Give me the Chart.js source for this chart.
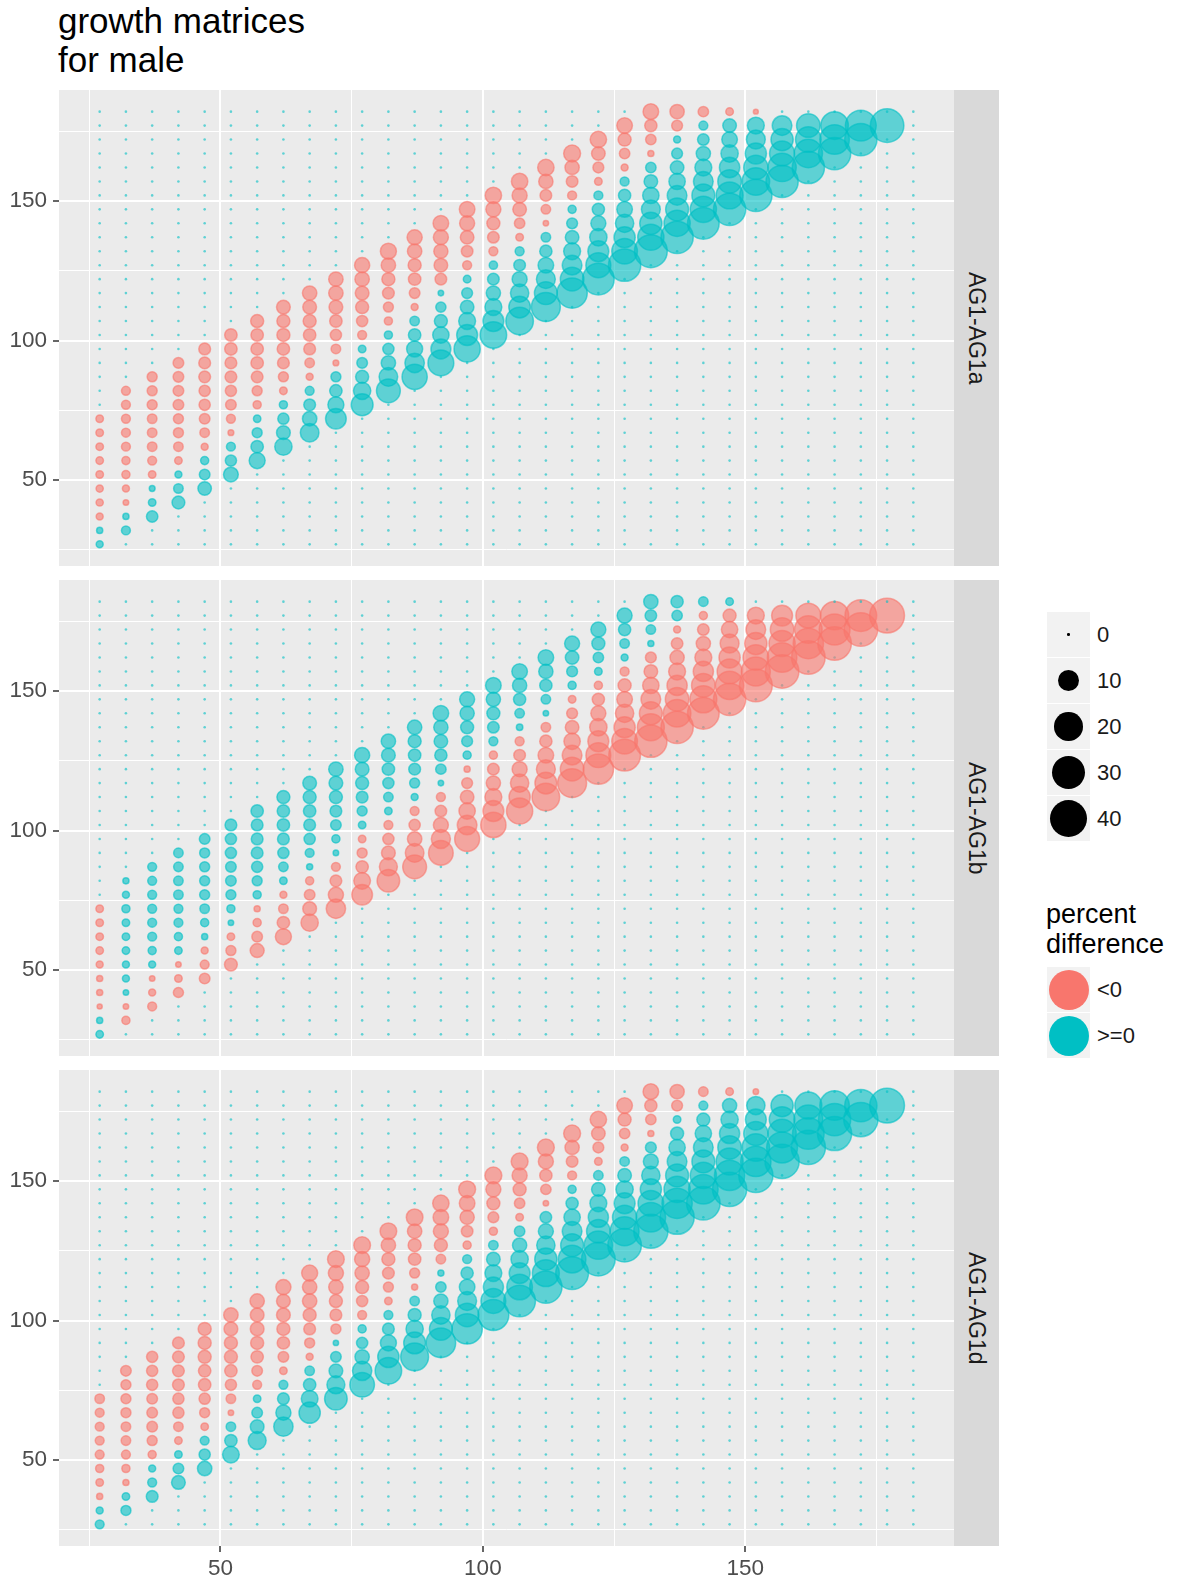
<!DOCTYPE html>
<html>
<head>
<meta charset="utf-8">
<title>growth matrices for male</title>
<script src="https://cdn.jsdelivr.net/npm/chart.js@4.4.1/dist/chart.umd.min.js"></script>
<style>
  html, body { margin:0; padding:0; background:#ffffff; }
  body { position:relative; width:1185px; height:1585px; overflow:hidden; font-family:"Liberation Sans", Arial, Helvetica, sans-serif; }
  #title { position:absolute; left:58px; top:1px; font-size:35px; line-height:39px; color:#000; white-space:nowrap; }
  canvas { position:absolute; left:0; }
  .strip { position:absolute; left:954px; width:45px; height:476px; background:#D9D9D9; display:flex; align-items:center; justify-content:center; }
  .strip span { writing-mode:vertical-rl; font-size:23px; color:#1A1A1A; white-space:nowrap; }
  .key { position:absolute; left:1047px; width:43px; height:45px; background:#F2F2F2; }
  .dot { position:absolute; border-radius:50%; }
  .lab { position:absolute; left:1097px; font-size:22px; line-height:26px; color:#1A1A1A; white-space:nowrap; }
  #ctitle { position:absolute; left:1046px; top:899px; font-size:27px; line-height:30px; color:#000; white-space:nowrap; }
</style>
</head>
<body>
<div id="title">growth matrices<br>for male</div>
<canvas id="p0"></canvas>
<canvas id="p1"></canvas>
<canvas id="p2"></canvas>
<script>
// ---------- data ----------
const xCategories = [27,32,37,42,47,52,57,62,67,72,77,82,87,92,97,102,107,112,117,122,127,132,137,142,147,152,157,162,167,172,177,182];
const yCategories = [27,32,37,42,47,52,57,62,67,72,77,82,87,92,97,102,107,112,117,122,127,132,137,142,147,152,157,162,167,172,177,182];
const gridValues = [25,50,75,100,125,150,175];
const majorTicks = [50,100,150];
const panelNames = ["AG1-AG1a","AG1-AG1b","AG1-AG1d"];
const sizeBreaks = [0,10,20,30,40];
const colorLabels = ["<0", ">=0"];
const colorTitle = ["percent","difference"];

// percent difference per starting size (column), listed from y = x upward; other cells are 0
const ag1a = [
 [0.3, 0.15, -0.3, -0.35, -0.35, -0.43, -0.43, -0.43, -0.43, -0.43],
 [0.85, 0.15, -0.08, -0.3, -0.6, -0.6, -0.85, -0.85, -0.85, -0.85, -0.85],
 [2.0, 0.43, 0.1, -0.43, -0.85, -1.1, -1.1, -1.1, -1.3, -1.3, -1.3],
 [2.85, 1.1, 0.3, -0.43, -1.1, -1.3, -1.3, -1.6, -1.6, -1.6, -1.6],
 [3.3, 1.6, 0.6, -0.3, -1.1, -1.6, -1.9, -1.9, -2.2, -2.2, -2.2],
 [4.3, 1.9, 0.85, -0.1, -0.85, -1.6, -1.9, -2.2, -2.2, -2.6, -2.6],
 [5.4, 2.6, 1.3, 0.4, -0.6, -1.3, -2.2, -2.6, -2.6, -2.6, -3.0],
 [6.6, 3.5, 1.9, 0.6, -0.45, -1.3, -2.2, -2.6, -3.0, -3.0, -3.5],
 [8.0, 4.0, 2.2, 0.85, -0.3, -1.1, -2.2, -2.6, -3.0, -3.5, -4.0],
 [10.4, 5.4, 2.6, 1.3, -0.1, -1.1, -1.9, -2.6, -3.5, -4.0, -4.0],
 [12, 6.6, 3.0, 1.6, 0.45, -0.85, -1.9, -3.0, -3.5, -4.0, -4.6],
 [14.8, 8.0, 4.0, 1.9, 0.6, -0.6, -1.3, -2.2, -3.0, -4.0, -5.4],
 [17, 9, 5.4, 2.6, 1.1, -0.3, -1.6, -2.6, -3.0, -4.0, -4.6],
 [18, 9.5, 5.7, 3.0, 1.4, 0.07, -2.1, -3.4, -3.8, -4.5, -5.0],
 [18.6, 10.7, 6.2, 3.4, 1.7, 0.45, -0.87, -2.1, -3.4, -4.5, -5.0],
 [19.2, 10.7, 6.2, 3.9, 2.1, 0.65, -0.87, -2.1, -3.0, -4.5, -5.7],
 [21, 11.7, 7.7, 4.5, 2.1, 0.87, -0.45, -1.5, -3.4, -4.5, -5.7],
 [23.5, 13.4, 8.3, 5.0, 2.5, 1.1, -0.06, -1.1, -2.1, -3.9, -5.7],
 [26.2, 14.4, 9.2, 6.2, 3.4, 1.7, 0.6, -0.87, -2.1, -3.9, -6.2],
 [29, 16.6, 10.7, 6.6, 4.5, 2.5, 0.87, -0.45, -1.7, -3.4, -5.7],
 [30.3, 17.6, 11.1, 7.7, 5.0, 2.5, 0.87, -0.3, -1.5, -3.0, -5.0],
 [31.5, 18.6, 12.5, 8.3, 5.7, 3.4, 1.5, -0.15, -1.5, -2.5, -5.0],
 [30.3, 18.6, 13.4, 9.2, 5.7, 3.4, 1.7, 0.3, -1.7, -3.9],
 [29, 18.6, 13.4, 9.2, 6.2, 3.9, 2.1, 0.87, -1.5],
 [30.3, 19.9, 14.4, 10, 6.6, 5.0, 3.4, -0.45],
 [30.3, 21, 15.4, 11.1, 8.3, 6.2, -0.02],
 [30.3, 22.3, 16.6, 12.5, 9.2],
 [30.3, 22.3, 17.6, 14.4],
 [30.3, 24.7, 21],
 [30.3, 27.4],
 [33.2],
 []
];

const ag1b = [
 [0.43, 0.15, -0.03, -0.15, -0.15, -0.3, -0.43, -0.43, -0.43, -0.43],
 [-0.6, -0.07, 0.07, 0.3, 0.3, 0.43, 0.43, 0.43, 0.6, 0.3, 0.15],
 [-0.85, -0.3, -0.07, 0.3, 0.6, 0.85, 0.85, 0.85, 0.85, 0.85, 0.85],
 [-1.35, -0.43, -0.07, 0.43, 0.6, 0.85, 0.85, 1.1, 1.1, 1.1, 1.1],
 [-1.6, -0.85, -0.3, 0.15, 0.6, 1.1, 1.3, 1.3, 1.3, 1.3, 1.6],
 [-2.85, -1.3, -0.43, 0.07, 0.6, 1.3, 1.6, 1.6, 1.9, 1.9, 2.2],
 [-3.7, -1.6, -0.6, -0.15, 0.6, 1.3, 1.9, 2.2, 2.2, 2.2, 2.6],
 [-5.4, -2.6, -1.1, -0.3, 0.43, 1.1, 1.9, 2.2, 2.6, 2.6, 3.0],
 [-6.6, -3.5, -1.6, -0.6, 0.15, 0.85, 1.9, 2.2, 2.6, 3.0, 3.5],
 [-8.8, -4.6, -2.2, -0.85, 0.07, 0.6, 1.6, 2.2, 3.0, 3.5, 4.0],
 [-10.4, -6.0, -2.6, -1.3, -0.43, 0.43, 1.3, 2.2, 3.0, 3.5, 4.6],
 [-13, -7.3, -3.5, -1.9, -0.85, 0.43, 1.1, 1.9, 2.6, 3.5, 4.0],
 [-14.8, -8, -4, -1.9, -0.85, 0.3, 1.3, 2.2, 2.6, 3.0, 4.0],
 [-16, -8.5, -4.5, -2.1, -0.87, 0.07, 1.5, 2.5, 3.4, 3.9, 5.0],
 [-16.5, -9.2, -5.7, -3.4, -1.7, -0.15, 0.6, 1.7, 3.0, 3.9, 4.5],
 [-17, -10.7, -6.2, -3.9, -2.1, -0.6, 0.87, 2.1, 3.0, 3.9, 5.0],
 [-18.6, -11.1, -7.7, -4.5, -2.1, -0.87, 0.2, 1.1, 2.5, 3.9, 5.0],
 [-21, -12, -8.3, -5.0, -2.5, -1.1, 0.07, 1.1, 2.5, 3.9, 5.0],
 [-23.5, -14.4, -9.2, -5.7, -3.4, -1.7, -0.45, 0.6, 1.7, 3.4, 4.5],
 [-26.2, -16.4, -10.7, -6.6, -4.5, -2.5, -0.6, 0.45, 1.5, 3.0, 4.5],
 [-29, -17.6, -11.1, -7.7, -5.0, -3.0, -0.87, 0.3, 1.1, 2.5, 4.5],
 [-30.3, -19.9, -13.4, -9.2, -5.7, -3.4, -1.7, 0.15, 1.1, 2.1, 3.9],
 [-30.3, -21, -14.4, -9.8, -6.2, -3.9, -2.1, -0.3, 1.5, 2.5],
 [-29, -19.9, -14.4, -9.8, -6.2, -3.9, -2.1, -0.6, 1.1],
 [-30.3, -22.3, -16.4, -11.1, -8.3, -5.7, -3.0, 0.45],
 [-31.5, -23.5, -17.6, -12.5, -9.2, -6.2],
 [-33.2, -24.7, -18.6, -14.4, -10.7],
 [-33.2, -26.2, -21, -16.4],
 [-33.2, -27.4, -22.3],
 [-33.2, -29],
 [-36],
 []
];

const ag1d = [
 [0.85, 0.3, -0.15, -0.43, -0.6, -0.85, -0.85, -0.85, -0.85, -1.1],
 [1.3, 0.43, -0.15, -0.6, -0.85, -1.1, -1.1, -1.3, -1.3, -1.3, -1.6],
 [2.2, 0.85, 0.3, -0.6, -1.3, -1.6, -1.6, -1.6, -1.9, -1.9, -1.9],
 [3.5, 1.6, 0.43, -0.43, -1.1, -1.9, -1.9, -2.2, -2.2, -2.2, -2.2],
 [4.0, 1.9, 0.85, -0.43, -1.3, -1.9, -2.6, -2.6, -3.0, -3.0, -3.0],
 [6.0, 2.6, 1.1, -0.07, -1.1, -1.9, -2.6, -3.0, -3.0, -3.5, -4.0],
 [7.3, 3.5, 1.6, 0.43, -0.85, -1.6, -2.6, -3.0, -3.5, -3.5, -4.0],
 [8.8, 4.6, 2.2, 0.85, -0.43, -1.6, -2.6, -3.0, -3.5, -3.5, -4.6],
 [11.2, 6.0, 2.6, 1.1, -0.3, -1.3, -2.2, -3.0, -4.0, -4.0, -5.4],
 [13, 7.3, 3.5, 1.6, 0.05, -1.3, -2.2, -3.0, -4.0, -4.6, -6.0],
 [16, 8.8, 4.0, 1.9, 0.6, -0.85, -1.9, -3.0, -4.0, -4.6, -6.0],
 [19.2, 11.2, 5.4, 2.2, 0.85, -0.43, -1.3, -2.2, -3.0, -4.0, -6.0],
 [21.5, 12, 6.6, 3.0, 1.1, -0.15, -1.3, -2.6, -3.0, -4.0, -6.0],
 [24.7, 13.4, 7.7, 3.9, 1.5, 0.15, -1.1, -3.0, -4.5, -5.0, -5.7],
 [26.2, 14.4, 8.3, 5.0, 2.5, 0.87, -0.6, -2.1, -3.9, -5.0, -6.2],
 [27.4, 16.4, 9.8, 6.2, 3.4, 1.1, -0.6, -1.7, -3.0, -4.5, -6.2],
 [29, 17.6, 10.7, 6.6, 3.9, 1.5, -0.45, -1.5, -3.0, -4.5, -6.2],
 [30.3, 19.9, 12.5, 7.7, 4.5, 2.1, -0.07, -1.5, -2.5, -4.5, -6.2],
 [31.5, 21, 13.4, 9.2, 5.7, 2.5, 0.6, -0.87, -2.1, -3.9, -6.2],
 [33.2, 22.3, 14.4, 9.8, 6.2, 3.4, 1.1, -0.45, -1.7, -3.4, -5.7],
 [33.2, 23.5, 15.4, 10.7, 6.6, 3.4, 1.1, -0.3, -1.5, -3.0, -5.0],
 [34.6, 24.7, 17.6, 11.1, 7.7, 4.5, 1.7, -0.15, -1.5, -2.5, -5.0],
 [34.6, 26.2, 18.6, 13.4, 9.2, 5.7, 3.0, 0.45, -1.7, -3.9],
 [33.2, 24.7, 18.6, 13.4, 9.2, 5.7, 3.0, 0.87, -1.1],
 [34.6, 26.2, 19.9, 14.4, 9.8, 6.6, 3.9, -0.45],
 [34.6, 26.2, 21, 15.4, 10.7, 7.7, -0.07],
 [34.6, 27.4, 22.3, 17.6, 12.5],
 [34.6, 29, 23.5, 19.9],
 [34.6, 30.3, 24.7],
 [34.6, 30.3],
 [36],
 []
];

// ---------- style / layout ----------
const RED = '#F8766D', TEAL = '#00BFC4';
const RED_A = 'rgba(248,118,109,0.6)', TEAL_A = 'rgba(0,191,196,0.6)';
const AXIS_MIN = 19.25, AXIS_MAX = 189.75;
const PANEL_TOP = [90, 580, 1070];
const PANEL_H = 476;
const FONT = '"Liberation Sans", Arial, Helvetica, sans-serif';

// size scale (pixels), calibrated on the size legend
function radius(v) { return v === 0 ? 1.3 : 2.1 + 2.55 * Math.sqrt(Math.abs(v)); }
const isMajor = c => c && c.tick && majorTicks.includes(c.tick.value);

const panelBg = {
  id: 'panelBg',
  beforeDraw(chart) {
    const a = chart.chartArea, ctx = chart.ctx;
    ctx.save(); ctx.fillStyle = '#EBEBEB';
    ctx.fillRect(a.left, a.top, a.right - a.left, a.bottom - a.top);
    ctx.restore();
  }
};

function axisCfg(isX, show) {
  return {
    type: 'linear', min: AXIS_MIN, max: AXIS_MAX,
    afterBuildTicks: a => { a.ticks = gridValues.map(v => ({ value: v })); },
    afterFit: a => {
      if (isX) { a.height = show ? 40 : 0; a.paddingLeft = 0; a.paddingRight = 0; }
      else { a.width = 59; a.paddingTop = 0; a.paddingBottom = 0; }
    },
    border: { display: false },
    grid: {
      color: '#FFFFFF',
      lineWidth: c => isMajor(c) ? 2 : 1,
      drawTicks: show,
      tickLength: 6,
      tickWidth: 1.5,
      tickColor: c => isMajor(c) ? '#333333' : 'rgba(0,0,0,0)'
    },
    ticks: {
      display: show, autoSkip: false, maxRotation: 0, minRotation: 0,
      padding: isX ? 3 : 6, color: '#4D4D4D',
      font: { family: FONT, size: 22.5 },
      callback: v => majorTicks.includes(v) ? String(v) : ''
    }
  };
}

const fillOf = c => (c.raw && c.raw.v < 0) ? RED_A : TEAL_A;

const panels = [ag1a, ag1b, ag1d];
panels.forEach((vals, p) => {
  const cv = document.getElementById('p' + p);
  const showX = p === panels.length - 1;
  const h = PANEL_H + (showX ? 40 : 0);
  cv.width = 954; cv.height = h;
  cv.style.top = PANEL_TOP[p] + 'px'; cv.style.width = '954px'; cv.style.height = h + 'px';

  const s = document.createElement('div');
  s.className = 'strip'; s.style.top = PANEL_TOP[p] + 'px';
  const sp = document.createElement('span'); sp.textContent = panelNames[p];
  s.appendChild(sp); document.body.appendChild(s);

  const pts = [];
  xCategories.forEach((x, i) => {
    const col = vals[i];
    yCategories.forEach((y, j) => {
      const k = j - i;
      const v = (k >= 0 && k < col.length) ? col[k] : 0;
      pts.push({ x: x, y: y, r: radius(v), v: v });
    });
  });

  new Chart(cv, {
    type: 'bubble',
    data: { datasets: [{
      data: pts,
      backgroundColor: fillOf,
      borderColor: fillOf,
      borderWidth: c => (c.raw && c.raw.v !== 0) ? 1.5 : 0,
      hoverBorderWidth: 0, clip: 0
    }] },
    options: {
      responsive: false, animation: false, devicePixelRatio: 1, events: [],
      layout: { autoPadding: false, padding: { top: 0, right: 0, left: 0, bottom: 0 } },
      plugins: { legend: { display: false }, tooltip: { enabled: false } },
      scales: { x: axisCfg(true, showX), y: axisCfg(false, true) }
    },
    plugins: [panelBg]
  });
});

// ---------- legends ----------
sizeBreaks.forEach((b, i) => {
  const top = 612 + i * 46;
  const k = document.createElement('div'); k.className = 'key'; k.style.top = top + 'px';
  const r = radius(b) + (b !== 0 ? 0.75 : 0);
  const d = document.createElement('div'); d.className = 'dot';
  d.style.width = (2 * r) + 'px'; d.style.height = (2 * r) + 'px';
  d.style.left = (21.5 - r) + 'px'; d.style.top = (22.5 - r) + 'px'; d.style.background = '#000';
  k.appendChild(d); document.body.appendChild(k);
  const l = document.createElement('div'); l.className = 'lab'; l.style.top = (top + 10) + 'px'; l.textContent = String(b);
  document.body.appendChild(l);
});
const ct = document.createElement('div'); ct.id = 'ctitle'; ct.innerHTML = colorTitle.join('<br>'); document.body.appendChild(ct);
[RED, TEAL].forEach((c, i) => {
  const top = 967 + i * 46;
  const k = document.createElement('div'); k.className = 'key'; k.style.top = top + 'px';
  const d = document.createElement('div'); d.className = 'dot';
  d.style.width = '40px'; d.style.height = '40px'; d.style.left = '1.5px'; d.style.top = '2.5px'; d.style.background = c;
  k.appendChild(d); document.body.appendChild(k);
  const l = document.createElement('div'); l.className = 'lab'; l.style.top = (top + 10) + 'px'; l.textContent = colorLabels[i];
  document.body.appendChild(l);
});
</script>
</body>
</html>
